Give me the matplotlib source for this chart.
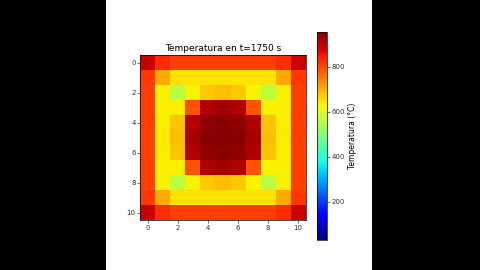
#!/usr/bin/env python3
"""Heat map of plate temperature at t=1750 s (jet colormap) on a letterboxed frame."""

import matplotlib

matplotlib.use("Agg")
import matplotlib.pyplot as plt
from matplotlib.patches import Rectangle
import numpy as np

TITLE = "Temperatura en t=1750 s"
CBAR_LABEL = "Temperatura (°C)"
TICKS = [0, 2, 4, 6, 8, 10]
CBAR_TICKS = [200, 400, 600, 800]
VMIN, VMAX = 30, 955

# temperature grid (°C), read row by row
ROW_0 = [895, 825, 808, 808, 808, 808, 808, 808, 808, 825, 895]
ROW_1 = [815, 705, 650, 650, 650, 650, 650, 650, 650, 705, 815]
ROW_2 = [810, 635, 560, 630, 675, 685, 675, 630, 560, 635, 810]
ROW_3 = [810, 635, 635, 790, 915, 925, 915, 790, 635, 635, 810]
ROW_4 = [810, 640, 680, 915, 940, 945, 940, 915, 680, 640, 810]
ROW_5 = [810, 640, 685, 920, 945, 950, 945, 920, 685, 640, 810]
ROW_6 = [810, 640, 680, 915, 940, 945, 940, 915, 680, 640, 810]
ROW_7 = [810, 635, 635, 790, 915, 925, 915, 790, 635, 635, 810]
ROW_8 = [810, 635, 560, 630, 675, 685, 675, 630, 560, 635, 810]
ROW_9 = [815, 705, 650, 650, 650, 650, 650, 650, 650, 705, 815]
ROW_10 = [895, 825, 808, 808, 808, 808, 808, 808, 808, 825, 895]


def main() -> None:
    grid = np.array([ROW_0, ROW_1, ROW_2, ROW_3, ROW_4, ROW_5,
                     ROW_6, ROW_7, ROW_8, ROW_9, ROW_10], dtype=float)

    fig = plt.figure(figsize=(4.8, 2.7), dpi=100, facecolor="white")
    # black side bars (video letterbox)
    for x0, w in [(0, 106), (372, 108)]:
        fig.patches.append(Rectangle((x0 / 480, 0), w / 480, 1, transform=fig.transFigure,
                                     facecolor="black", edgecolor="none", zorder=-1))

    ax = fig.add_axes([140 / 480, 1 - 220 / 270, 166 / 480, 165 / 270])
    im = ax.imshow(grid, cmap="jet", vmin=VMIN, vmax=VMAX, interpolation="nearest")
    ax.set_title(TITLE, fontsize=6.5, pad=3)
    ax.set_xticks(TICKS)
    ax.set_yticks(TICKS)
    ax.tick_params(labelsize=5, length=2, width=0.5, pad=1.5, colors="#333333")
    for spine in ax.spines.values():
        spine.set_linewidth(0.5)

    cax = fig.add_axes([317 / 480, 1 - 240 / 270, 10 / 480, 208 / 270])
    cbar = fig.colorbar(im, cax=cax, ticks=CBAR_TICKS)
    cbar.outline.set_linewidth(0.5)
    cbar.ax.tick_params(labelsize=5, length=2, width=0.5, pad=1.5, colors="#333333")
    cbar.set_label(CBAR_LABEL, fontsize=5.5, labelpad=2)

    fig.savefig("out.png", dpi=100, facecolor=fig.get_facecolor())


if __name__ == "__main__":
    main()
